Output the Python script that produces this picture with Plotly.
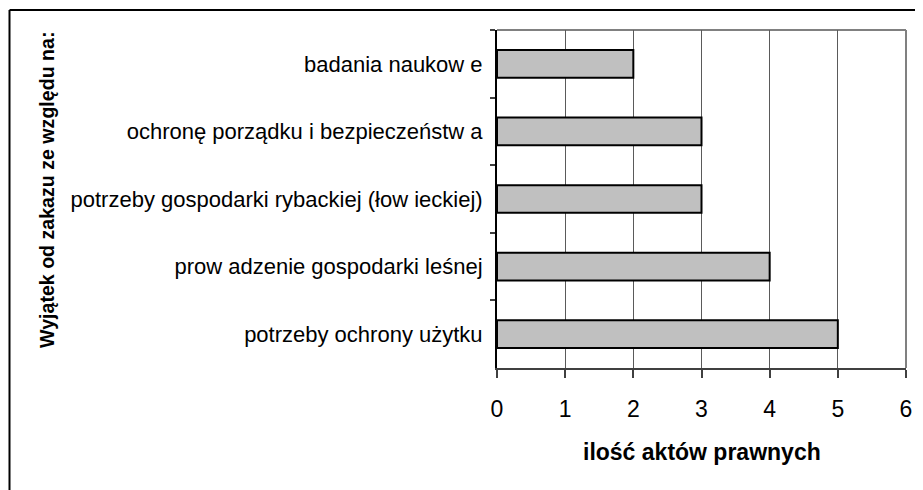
import plotly.graph_objects as go

categories = [
    "badania naukow e",
    "ochronę porządku i bezpieczeństw a",
    "potrzeby gospodarki rybackiej (łow ieckiej)",
    "prow adzenie gospodarki leśnej",
    "potrzeby ochrony użytku",
]
values = [2, 3, 3, 4, 5]
x_ticks = [0, 1, 2, 3, 4, 5, 6]
x_title = "ilość aktów prawnych"
y_title = "Wyjątek od zakazu ze względu na:"

FONT = "Arial, Liberation Sans, sans-serif"
OFF = 8  # default body margin of the html page
W, H = 923 - OFF, 490 - OFF
L, R, T, B = 497 - OFF, 17, 30 - OFF, 122
pw, ph = W - L - R, H - T - B

fig = go.Figure(go.Bar(
    x=values, y=categories, orientation="h",
    marker=dict(color="#C0C0C0", line=dict(color="#000000", width=2)),
    width=0.41,
))

# convert screenshot pixel positions to paper coordinates
def px_x(p):
    return (p - OFF - L) / pw

def px_y(p):
    return (H - B - (p - OFF)) / ph

fig.update_layout(
    width=W, height=H,
    margin=dict(l=L, r=R, t=T, b=B, autoexpand=False),
    paper_bgcolor="white", plot_bgcolor="white",
    showlegend=False,
    font=dict(family=FONT, color="#000000"),
    xaxis=dict(
        range=[0, 6], tickvals=x_ticks, ticktext=[str(v) for v in x_ticks],
        showgrid=True, gridcolor="#5a5a5a", gridwidth=1,
        showline=True, linecolor="#404040", linewidth=2,
        ticks="outside", ticklen=8, tickcolor="#404040", tickwidth=2,
        tickfont=dict(size=23, family=FONT),
        ticklabelstandoff=11,
        zeroline=False, fixedrange=True,
    ),
    yaxis=dict(
        autorange="reversed", type="category",
        showgrid=False,
        showline=True, linecolor="#000000", linewidth=2,
        ticks="outside", ticklen=5, tickcolor="#404040", tickwidth=2,
        tickson="boundaries",
        tickfont=dict(size=22, family=FONT),
        ticklabelstandoff=8,
        fixedrange=True,
    ),
    shapes=[
        dict(type="line", xref="paper", yref="paper", x0=0, x1=1, y0=1, y1=1,
             line=dict(color="#808080", width=2), layer="below"),
        dict(type="line", xref="paper", yref="paper", x0=1, x1=1, y0=0, y1=1,
             line=dict(color="#808080", width=2), layer="below"),
        dict(type="line", xref="paper", yref="paper",
             x0=px_x(9.5), x1=px_x(940), y0=px_y(10), y1=px_y(10),
             line=dict(color="#000000", width=2)),
        dict(type="line", xref="paper", yref="paper",
             x0=px_x(9.5), x1=px_x(9.5), y0=px_y(10), y1=px_y(520),
             line=dict(color="#000000", width=2)),
    ],
    annotations=[
        dict(text="<b>" + x_title + "</b>", xref="paper", yref="paper",
             x=0.5, y=px_y(452), xanchor="center", yanchor="middle",
             showarrow=False, font=dict(size=23, family=FONT)),
        dict(text="<b>" + y_title + "</b>", xref="paper", yref="paper",
             x=px_x(47), y=px_y(190), xanchor="center", yanchor="middle",
             textangle=-90, showarrow=False, font=dict(size=19.6, family=FONT)),
    ],
)

fig.write_html("out.html")
